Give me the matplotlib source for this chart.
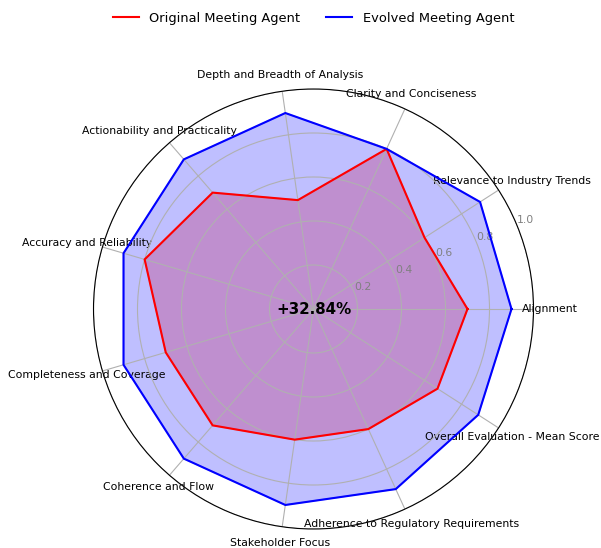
import numpy as np
import matplotlib
matplotlib.use("Agg")
import matplotlib.pyplot as plt

categories = ["Alignment", "Relevance to Industry Trends", "Clarity and Conciseness",
              "Depth and Breadth of Analysis", "Actionability and Practicality",
              "Accuracy and Reliability", "Completeness and Coverage", "Coherence and Flow",
              "Stakeholder Focus", "Adherence to Regulatory Requirements",
              "Overall Evaluation - Mean Score"]
original = [0.7, 0.6, 0.8, 0.5, 0.7, 0.8, 0.7, 0.7, 0.6, 0.6, 0.67]
evolved = [0.9, 0.9, 0.8, 0.9, 0.9, 0.9, 0.9, 0.9, 0.9, 0.9, 0.89]
rticks = [0.2, 0.4, 0.6, 0.8, 1.0]
rtick_labels = ["0.2", "0.4", "0.6", "0.8", "1.0"]
center_text = "+32.84%"
series_names = ["Original Meeting Agent", "Evolved Meeting Agent"]

N = len(categories)
angles = np.linspace(0, 2 * np.pi, N, endpoint=False).tolist()
angles_c = angles + angles[:1]

fig = plt.figure(figsize=(6.01, 5.48), dpi=100)
ax = fig.add_axes([93.5 / 601, 19 / 548, 440 / 601, 440 / 548], polar=True)

o = original + original[:1]
e = evolved + evolved[:1]
l1, = ax.plot(angles_c, o, color="red", linewidth=1.5, label=series_names[0])
ax.fill(angles_c, o, color="red", alpha=0.25)
l2, = ax.plot(angles_c, e, color="blue", linewidth=1.5, label=series_names[1])
ax.fill(angles_c, e, color="blue", alpha=0.25)

ax.set_ylim(0, 1)
ax.set_xticks(angles)
ax.set_xticklabels(categories, fontsize=7.8)
ax.tick_params(axis="x", pad=1)
ax.set_yticks(rticks)
ax.set_yticklabels(rtick_labels, color="grey", fontsize=7.8)
ax.spines["polar"].set_linewidth(0.8)

ax.text(0, 0, center_text, ha="center", va="center", fontsize=10.8, fontweight="bold")

fig.legend(handles=[l1, l2], loc="upper center", bbox_to_anchor=(313.5 / 601, 1),
           ncol=2, frameon=False, fontsize=9.4)

fig.savefig("out.png", dpi=100)
